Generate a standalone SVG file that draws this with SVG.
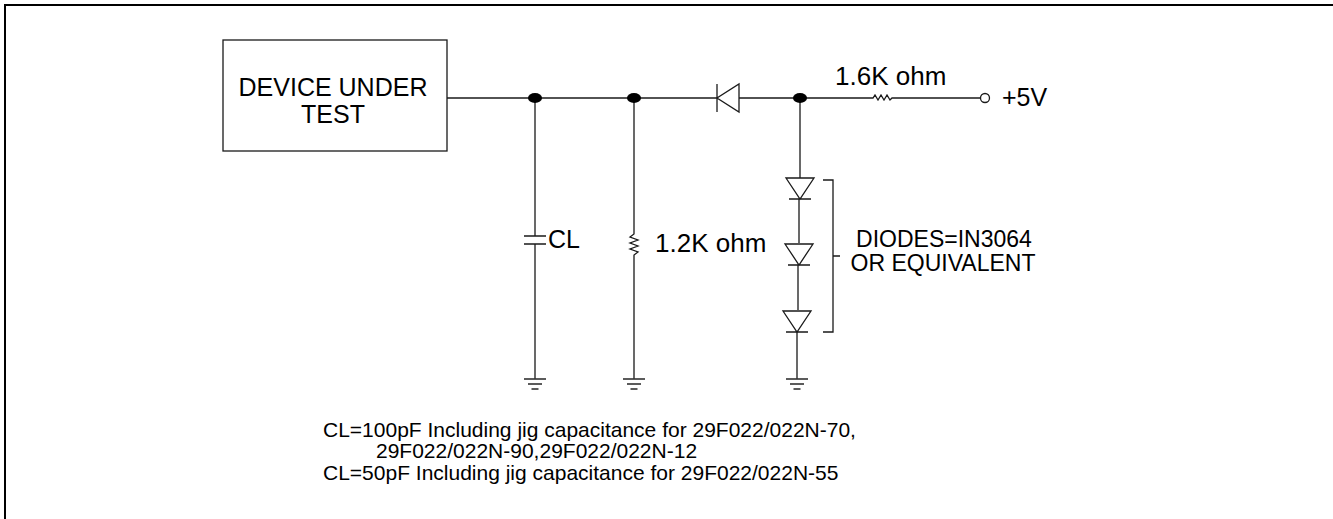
<svg xmlns="http://www.w3.org/2000/svg" width="1333" height="519" viewBox="0 0 1333 519">
<style>
.w{stroke:#1a1a1a;stroke-width:1.3;fill:none}
.g{stroke:#333;stroke-width:1.6;fill:none}
.t{font-family:"Liberation Sans",Arial,Helvetica,sans-serif;fill:#000}
.dot{fill:#000}
</style>
<defs>
<g id="gnd"><line class="g" x1="-11" y1="0" x2="11" y2="0"/><line class="g" x1="-7" y1="5" x2="7" y2="5"/><line class="g" x1="-3.5" y1="10" x2="3.5" y2="10"/></g>
<g id="dd"><path class="w" d="M-14,0 H14 L0,21 Z M-11,21 H11"/></g>
</defs>
<rect x="0" y="0" width="1333" height="519" fill="#fff"/>
<path d="M5,519 V5 H1333" fill="none" stroke="#000" stroke-width="2"/>

<g id="dut">
<rect class="w" x="223" y="40" width="224" height="111"/>
<text class="t" x="333" y="96" font-size="25" text-anchor="middle">DEVICE UNDER</text>
<text class="t" x="333" y="123" font-size="25" text-anchor="middle">TEST</text>
</g>

<g id="connectors">
<path class="w" d="M447,98 H717"/>
<path class="w" d="M739,98 H873 l2,-3 l3,5 l3,-5 l3,5 l3,-5 l3,5 l2,-2 H981"/>
<path class="w" d="M535,98 V236 M535,244 V379"/>
<path class="w" d="M634,98 V234 l-4,3 l8,3 l-8,3 l8,3 l-8,3 l8,3 l-4,3 V379"/>
<path class="w" d="M800,98 V178 M799,199 V243 M798,265 V310 M797,332 V379"/>
<path class="w" d="M823,180 H833 V332 H823 M833,256 H840"/>
</g>

<g id="node-dots">
<ellipse class="dot" cx="535" cy="98" rx="7" ry="5"/>
<ellipse class="dot" cx="634" cy="98" rx="7" ry="5"/>
<ellipse class="dot" cx="800" cy="98" rx="7" ry="5"/>
</g>

<g id="diode-series">
<path class="w" d="M717,84 V112 M739,84 V112 L717,98 Z"/>
</g>

<g id="terminal">
<circle cx="985" cy="98" r="4.5" fill="#fff" stroke="#1a1a1a" stroke-width="1.3"/>
<text class="t" x="1002" y="106" font-size="25">+5V</text>
</g>

<g id="r-1k6">
<text class="t" x="835" y="85" font-size="26">1.6K ohm</text>
</g>

<g id="cap-cl">
<path class="w" d="M524,236 H546 M524,244 H546"/>
<text class="t" x="548" y="248" font-size="25">CL</text>
</g>

<g id="r-1k2">
<text class="t" x="655" y="252" font-size="26">1.2K ohm</text>
</g>

<g id="diode1"><use href="#dd" x="800" y="178"/></g>
<g id="diode2"><use href="#dd" x="799" y="244"/></g>
<g id="diode3"><use href="#dd" x="797" y="311"/></g>

<g id="diodes-label">
<text class="t" x="944" y="247" font-size="23" text-anchor="middle">DIODES=IN3064</text>
<text class="t" x="943" y="271" font-size="23" text-anchor="middle">OR EQUIVALENT</text>
</g>

<g id="grounds">
<use href="#gnd" x="535" y="379"/>
<use href="#gnd" x="634" y="379"/>
<use href="#gnd" x="797" y="379"/>
</g>

<g id="note">
<text class="t" x="323" y="437" font-size="21">CL=100pF Including jig capacitance for 29F022/022N-70,</text>
<text class="t" x="376" y="458" font-size="21">29F022/022N-90,29F022/022N-12</text>
<text class="t" x="323" y="480" font-size="21">CL=50pF Including jig capacitance for 29F022/022N-55</text>
</g>
</svg>
